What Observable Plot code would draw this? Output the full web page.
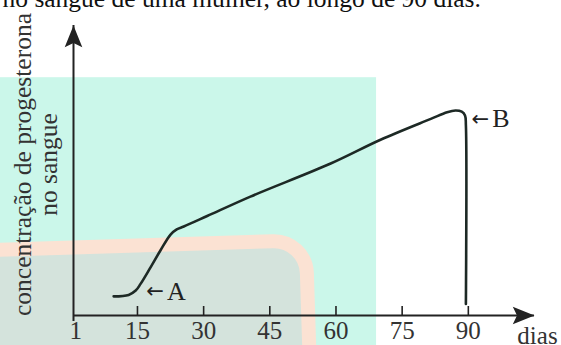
<!DOCTYPE html>
<html>
<head>
<meta charset="utf-8">
<script src="https://cdn.jsdelivr.net/npm/d3@7"></script>
<script src="https://cdn.jsdelivr.net/npm/@observablehq/plot@0.6"></script>
<style>
  body { margin: 0; background: #fff; }
  #chart svg { display: block; }
</style>
</head>
<body>
<div id="chart"></div>
<script>
// ---- data ----
const days   = [9.6, 13.0, 14.6, 15.7, 18.0, 20.2, 22.5, 23.9, 25.5, 30.8, 40.6, 58.8, 70.1, 81.5, 85.2, 87.1, 88.5, 89.25, 89.45, 89.45];
const values = [6.6, 7.1, 8.6, 10.9, 16.7, 22.4, 27.9, 29.7, 30.7, 34.3, 41.0, 52.4, 60.6, 67.8, 70.1, 70.7, 70.3, 69.0, 65.5, 4.0];
const xTicks = [1, 15, 30, 45, 60, 75, 90];

const titleText  = "no sangue de uma mulher, ao longo de 90 dias.";
const yLabelText = "concentração de progesterona\nno sangue";
const xLabelText = "dias";

const noteLetters     = ["A", "B"];
const noteDays        = [21.7, 95.4];
const noteValues      = [5.2, 64.9];
const noteArrowDays   = [17.0, 90.7];
const noteArrowValues = [8.3, 67.8];

// ---- decorative backdrop (in data units) ----
const backdrop = {
  cyan:  {x1: -20, x2: 69.2, y1: -15, y2: 82.0},
  peach: {x1: -30, x2: 53.3, y1: -30, y2: 24.1}
};

const curve = days.map((d, i) => ({day: d, value: values[i]}));

// filled "stealth" arrowhead pointing up, tip at origin
const stealth = {
  draw(ctx) {
    ctx.moveTo(0, 0);
    ctx.lineTo(8.8, 21.7);
    ctx.lineTo(0, 17.5);
    ctx.lineTo(-8.8, 21.7);
    ctx.closePath();
  }
};

const ink = "#222";
const serif = "'Liberation Serif', 'DejaVu Serif', Tinos, 'Times New Roman', Times, serif";

const svg = Plot.plot({
  width: 561,
  height: 345,
  marginTop: 25,
  marginRight: 27,
  marginBottom: 30,
  marginLeft: 73,
  style: {fontSize: "25px", background: "white"},
  x: {domain: [0.5, 105], label: null},
  y: {domain: [0, 100], axis: null, label: null},
  marks: [
    Plot.rect([backdrop.cyan], {x1: "x1", x2: "x2", y1: "y1", y2: "y2", fill: "#cbf7ea"}),
    Plot.rect([backdrop.peach], {x1: "x1", x2: "x2", y1: "y1", y2: "y2", fill: "#d4e3dc", stroke: "#fbe2d3", strokeWidth: 14, rx: 33, ry: 33}),
    // axes
    Plot.ruleY([0], {stroke: ink, strokeWidth: 2}),
    Plot.ruleX([0.5], {y1: 0, y2: 100, stroke: ink, strokeWidth: 2, insetTop: 6}),
    Plot.ruleX(xTicks.filter(d => d > 1), {x: d => d, y1: 0, y2: 0, insetTop: -9, stroke: ink, strokeWidth: 1.6}),
    Plot.dot([0.5], {x: d => d, y: () => 100, symbol: stealth, fill: ink, stroke: "none"}),
    Plot.dot([105], {x: d => d, y: () => 0, symbol: stealth, fill: ink, stroke: "none", rotate: 90}),
    Plot.axisX({ticks: xTicks, tickSize: 0, tickPadding: 5.5, fontSize: 25, fill: "#333", label: null}),
    // curve
    Plot.line(curve, {x: "day", y: "value", curve: "catmull-rom", stroke: "#1d2925", strokeWidth: 2.6, strokeLinejoin: "round", strokeLinecap: "round"}),
    // annotations
    Plot.text(noteLetters, {x: (d, i) => noteArrowDays[i], y: (d, i) => noteArrowValues[i], text: () => "←", fontSize: 21, textAnchor: "start", lineAnchor: "middle", fill: ink}),
    Plot.text(noteLetters, {x: (d, i) => noteDays[i], y: (d, i) => noteValues[i], text: d => d, fontSize: 26, textAnchor: "start", lineAnchor: "bottom", fill: ink}),
    // texts
    Plot.text([titleText], {text: d => d, frameAnchor: "top-left", dx: -71, dy: -18.5, textAnchor: "start", lineAnchor: "bottom", fontSize: 25.5, fill: "#111"}),
    Plot.text([yLabelText], {text: d => d, frameAnchor: "left", dx: -61.5, dy: -6, rotate: -90, textAnchor: "middle", lineAnchor: "top", lineHeight: 1.04, fontSize: 25.5, fill: "#333"}),
    Plot.text([xLabelText], {text: d => d, frameAnchor: "bottom-right", dx: 3, dy: 28, textAnchor: "middle", lineAnchor: "bottom", fontSize: 25, fill: "#333"})
  ]
});

document.getElementById("chart").append(svg);

// serif font on every text, except the small arrow glyphs (first text mark)
svg.setAttribute("font-family", serif);
svg.style.setProperty("font-family", serif, "important");
svg.querySelectorAll("g").forEach(g => { if (g.hasAttribute("font-family")) g.setAttribute("font-family", serif); });
svg.querySelectorAll("text, tspan").forEach(t => t.style.setProperty("font-family", serif, "important"));
const textGroups = svg.querySelectorAll('g[aria-label="text"]');
if (textGroups[0]) textGroups[0].querySelectorAll("text").forEach(t => t.style.setProperty("font-family", "'DejaVu Sans', sans-serif", "important"));

// slight tilt of the peach rounded panel, as in the picture
const rectGroups = svg.querySelectorAll('g[aria-label="rect"]');
if (rectGroups[1]) {
  const t = rectGroups[1].getAttribute("transform") || "";
  rectGroups[1].setAttribute("transform", "rotate(-1.8 150 245) " + t);
}
</script>
</body>
</html>
